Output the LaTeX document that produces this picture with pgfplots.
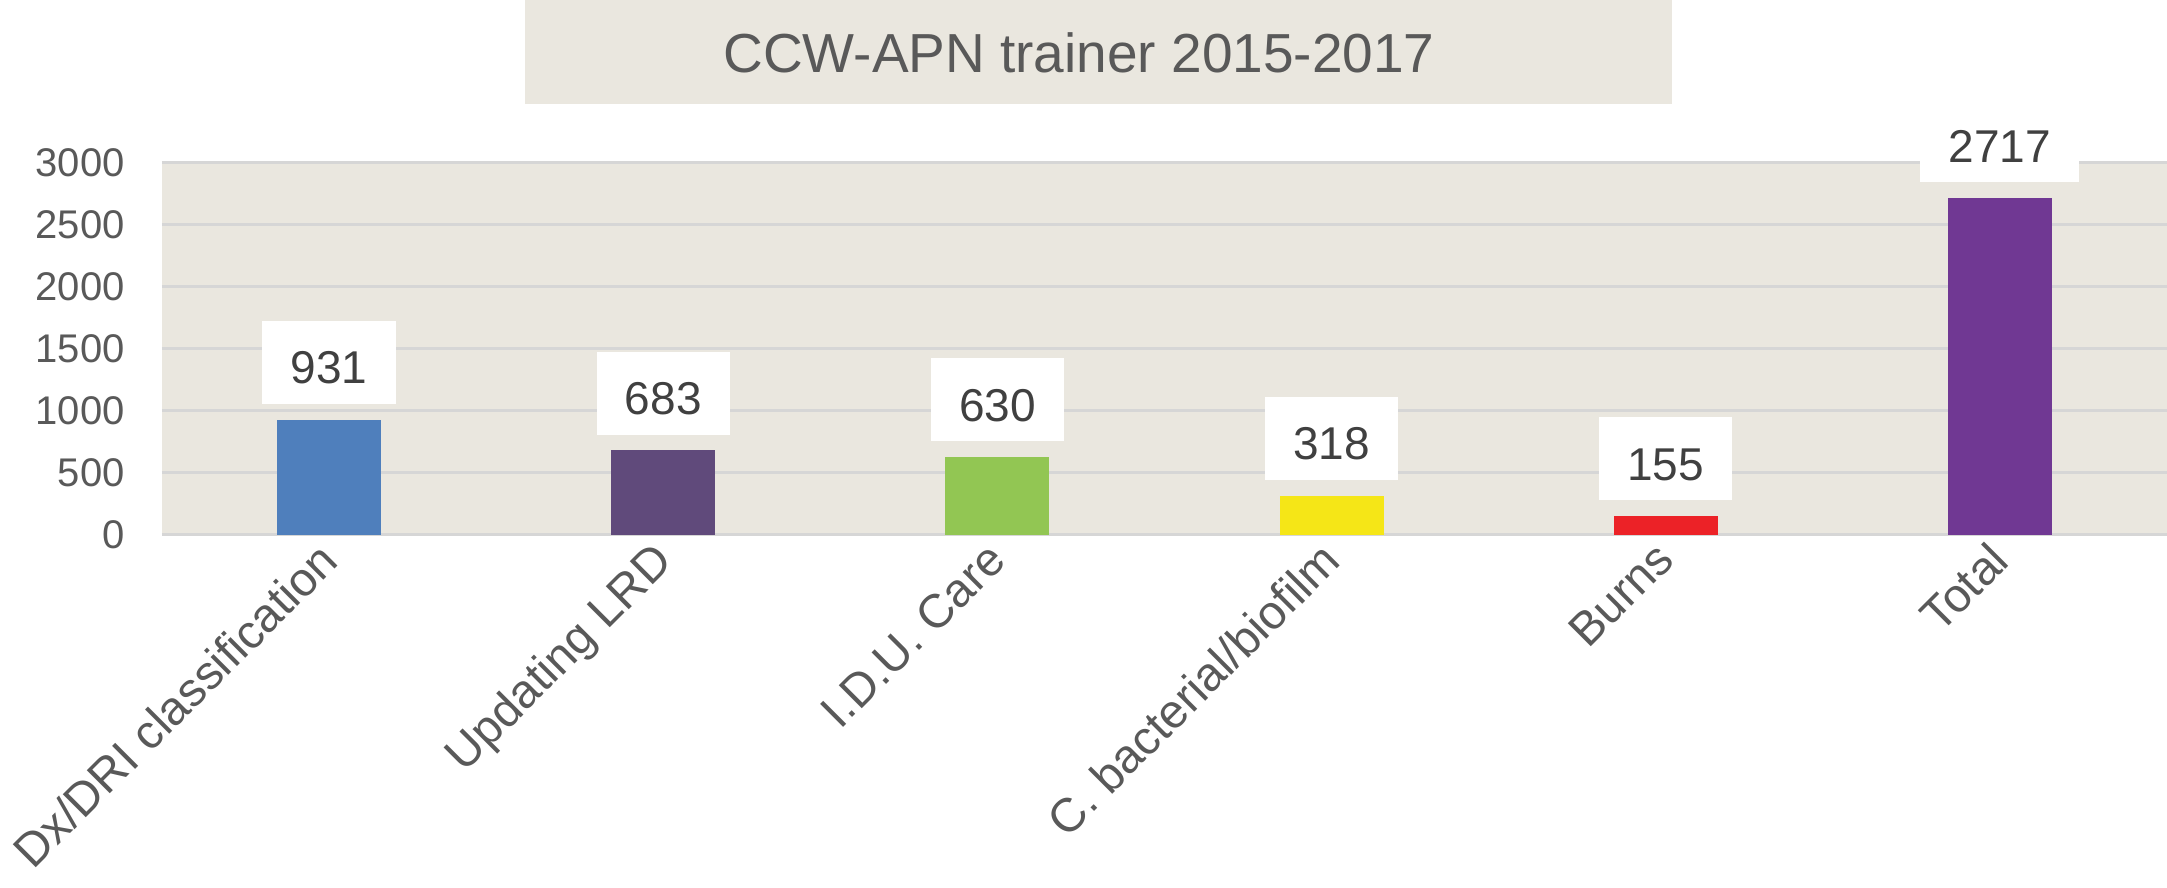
\documentclass[border=0pt]{standalone}
\usepackage{pgfplots}
\pgfplotsset{compat=1.18}
\usepackage{fontspec}
\setmainfont{Liberation Sans}
\definecolor{bgbeige}{HTML}{EAE7DF}
\definecolor{gridgray}{HTML}{D6D6D6}
\definecolor{ticktext}{HTML}{595959}
\definecolor{labeltext}{HTML}{404040}
\definecolor{cA}{HTML}{4F7FBC}
\definecolor{cB}{HTML}{604A7B}
\definecolor{cC}{HTML}{92C653}
\definecolor{cD}{HTML}{F5E617}
\definecolor{cE}{HTML}{EC2227}
\definecolor{cF}{HTML}{703893}
\begin{document}
\begin{tikzpicture}
\path[use as bounding box] (0,0) rectangle (650.1pt,266.4pt);
\fill[bgbeige] (157.5pt,235.2pt) rectangle (501.6pt,266.4pt);
\node[text=ticktext, font=\fontsize{16.5}{19}\selectfont] at (323.7pt,250.5pt) {CCW-APN trainer 2015-2017};
\begin{axis}[
  at={(48.6pt,105.9pt)}, anchor=south west,
  scale only axis, width=601.5pt, height=111.6pt,
  xmin=-0.5, xmax=5.5, ymin=0, ymax=3000,
  ytick={0,500,...,3000},
  xtick={0,1,2,3,4,5},
  xticklabels={Dx/DRI classification, Updating LRD, I.D.U. Care, C. bacterial/biofilm, Burns, Total},
  scaled y ticks=false,
  /pgf/number format/assume math mode=true,
  /pgf/number format/1000 sep={},
  axis background/.style={fill=bgbeige},
  axis line style={draw=none},
  major tick length=0pt,
  ymajorgrids, grid style={gridgray, line width=0.9pt},
  yticklabel style={text=ticktext, font=\fontsize{12}{14}\selectfont, anchor=east, inner sep=0pt, xshift=-11pt},
  xticklabel style={text=ticktext, font=\fontsize{14.2}{17}\selectfont, rotate=45, anchor=north east, inner sep=1pt, xshift=-2.5pt, yshift=3pt},
  nodes near coords,
  every node near coord/.append style={fill=white, text=labeltext, font=\fontsize{13.8}{16}\selectfont, inner xsep=8.5pt, inner ysep=6pt, text height=12.9pt, text depth=0pt, anchor=south, yshift=4.5pt},
  clip=false,
]
\addplot[ybar, bar width=31.2pt, bar shift=0pt, fill=cA, draw=none] coordinates {(0,931)};
\addplot[ybar, bar width=31.2pt, bar shift=0pt, fill=cB, draw=none] coordinates {(1,683)};
\addplot[ybar, bar width=31.2pt, bar shift=0pt, fill=cC, draw=none] coordinates {(2,630)};
\addplot[ybar, bar width=31.2pt, bar shift=0pt, fill=cD, draw=none] coordinates {(3,318)};
\addplot[ybar, bar width=31.2pt, bar shift=0pt, fill=cE, draw=none] coordinates {(4,155)};
\addplot[ybar, bar width=31.2pt, bar shift=0pt, fill=cF, draw=none] coordinates {(5,2717)};
\end{axis}
\end{tikzpicture}
\end{document}
